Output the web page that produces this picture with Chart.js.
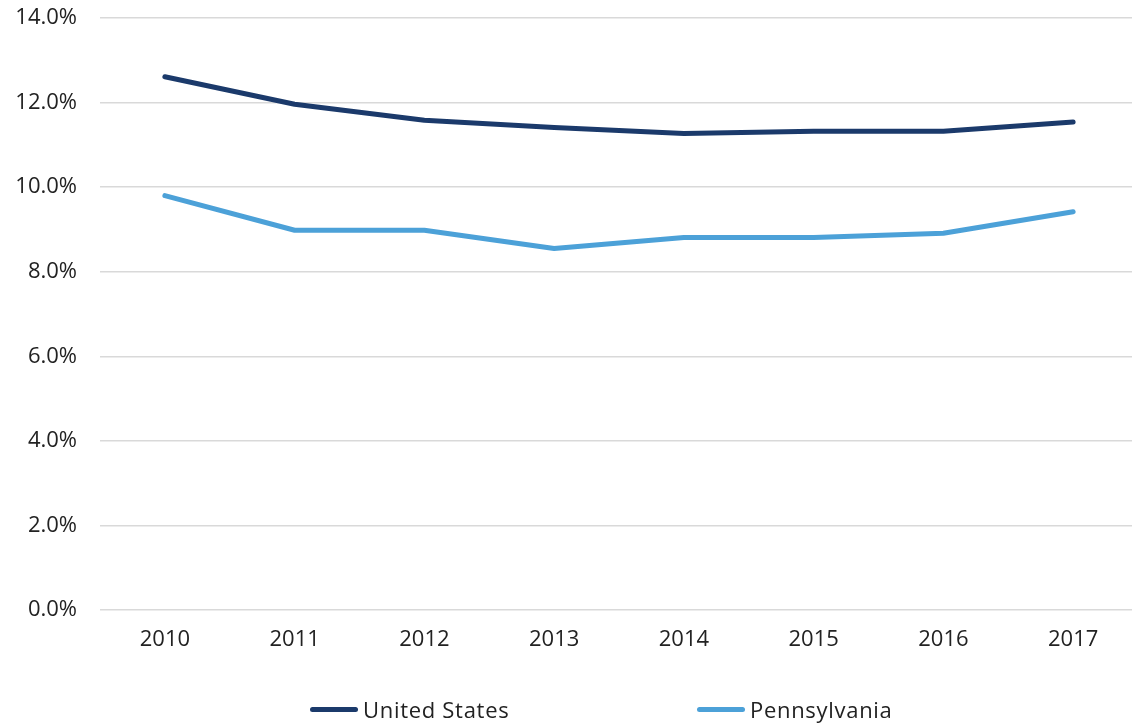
<!DOCTYPE html>
<html>
<head>
<meta charset="utf-8">
<script src="https://cdn.jsdelivr.net/npm/chart.js@4.4.1/dist/chart.umd.min.js"></script>
<style>
  html, body { margin: 0; padding: 0; background: #fff; overflow: hidden; }
  #wrap { position: relative; width: 1132px; height: 723px; overflow: hidden; }
  #box { position: absolute; left: 0; top: 0; width: 1138px; height: 723px; }
  .legend { position: absolute; top: 694px; height: 30px; font-family: "Open Sans", sans-serif; font-size: 22px; letter-spacing: 0.7px; color: #222; display: flex; align-items: center; white-space: nowrap; }
  .legend .swatch { width: 48px; height: 5px; border-radius: 3px; margin-right: 5px; }
</style>
</head>
<body>
<div id="wrap">
  <div id="box"><canvas id="chart"></canvas></div>
  <div class="legend" style="left:310px"><span class="swatch" style="background:#1b3a6b"></span>United States</div>
  <div class="legend" style="left:697px"><span class="swatch" style="background:#4ca1d8"></span>Pennsylvania</div>
</div>
<script>
const years = ['2010', '2011', '2012', '2013', '2014', '2015', '2016', '2017'];
const unitedStates = [12.61, 11.96, 11.58, 11.41, 11.27, 11.32, 11.32, 11.54];
const pennsylvania = [9.80, 8.98, 8.98, 8.55, 8.81, 8.81, 8.91, 9.42];
const yTicks = [0, 2, 4, 6, 8, 10, 12, 14];

const textColor = '#222';
const fontFamily = '"Open Sans", sans-serif';

new Chart(document.getElementById('chart'), {
  type: 'line',
  data: {
    labels: years,
    datasets: [
      { label: 'United States', data: unitedStates, borderColor: '#1b3a6b', backgroundColor: '#1b3a6b',
        borderWidth: 5, pointRadius: 0, borderCapStyle: 'round', borderJoinStyle: 'round', tension: 0 },
      { label: 'Pennsylvania', data: pennsylvania, borderColor: '#4ca1d8', backgroundColor: '#4ca1d8',
        borderWidth: 5, pointRadius: 0, borderCapStyle: 'round', borderJoinStyle: 'round', tension: 0 }
    ]
  },
  options: {
    responsive: true,
    maintainAspectRatio: false,
    animation: false,
    layout: { padding: { top: 0, bottom: 63, left: 0, right: 0 } },
    plugins: { legend: { display: false }, tooltip: { enabled: false } },
    scales: {
      x: {
        offset: true,
        grid: { display: false, drawTicks: false },
        border: { display: false },
        ticks: { color: textColor, font: { family: fontFamily, size: 22 }, padding: 17, maxRotation: 0 },
        afterFit: s => { s.height = 50; }
      },
      y: {
        min: 0, max: 14,
        afterBuildTicks: s => { s.ticks = yTicks.map(v => ({ value: v })); },
        grid: { color: '#d9d9d9', lineWidth: 1.5, drawTicks: false },
        border: { display: false },
        ticks: { color: textColor, font: { family: fontFamily, size: 22 }, padding: 23,
                 callback: v => v.toFixed(1) + '%' },
        afterFit: s => { s.width = 100; s.paddingTop = 18; }
      }
    }
  }
});
</script>
</body>
</html>
